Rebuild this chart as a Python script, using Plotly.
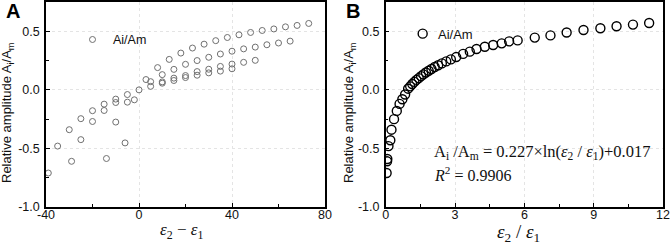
import plotly.graph_objects as go

# ---- Panel A data: relative amplitude vs strain difference ----
a_diff = [-39, -35, -30, -25, -20, -15, -10, -5, 0, 3, 5, 8, 13, 18, 23, 28, 33, 38, 43, 48, 53, 58, 63, 68, 73,
          -29, -25, -20, -15, -10, -5, -2, 5, 10, 15, 20, 25, 30, 35, 40, 45, 50, 55, 60, 65,
          -14, -10, -6, 10, 15, 20, 25, 30, 35, 40, 45, 50,
          10, 15, 20, 25, 30, 35, 40]
a_amp = [-0.71, -0.48, -0.34, -0.246, -0.178, -0.122, -0.079, -0.04, 0.0, 0.088, 0.07, 0.19, 0.26, 0.314, 0.357,
         0.39, 0.42, 0.447, 0.47, 0.49, 0.507, 0.52, 0.538, 0.55, 0.567,
         -0.61, -0.425, -0.27, -0.176, -0.108, -0.105, -0.085, 0.03, 0.13, 0.175, 0.218, 0.25, 0.278, 0.306,
         0.33, 0.35, 0.365, 0.385, 0.40, 0.416,
         -0.586, -0.275, -0.453, 0.068, 0.10, 0.122, 0.156, 0.176, 0.20, 0.22, 0.235, 0.252,
         0.057, 0.08, 0.105, 0.125, 0.145, 0.16, 0.18]

# ---- Panel B data: relative amplitude vs strain ratio ----
b_ratio = [0.04, 0.06, 0.07, 0.12, 0.20, 0.25, 0.36, 0.48, 0.60, 0.72, 0.84, 0.97, 1.06, 1.15, 1.24, 1.33,
           1.43, 1.53, 1.63, 1.74, 1.86, 1.98, 2.12, 2.27, 2.43, 2.62, 2.82, 3.05, 3.35, 3.64, 3.93, 4.29,
           4.65, 5.02, 5.34, 5.71, 6.45, 7.13, 7.83, 8.56, 9.29, 9.99, 10.7, 11.4]
b_amp = [-0.71, -0.61, -0.59, -0.48, -0.43, -0.34, -0.25, -0.18, -0.12, -0.08, -0.04, 0.01, 0.03, 0.05,
         0.068, 0.085, 0.10, 0.117, 0.132, 0.148, 0.163, 0.178, 0.195, 0.21, 0.226, 0.243, 0.26, 0.28,
         0.307, 0.326, 0.349, 0.368, 0.383, 0.397, 0.414, 0.422, 0.446, 0.465, 0.49, 0.511, 0.526,
         0.543, 0.557, 0.571]

y_tickvals = [-1.0, -0.5, 0.0, 0.5]
y_ticktext = ["-1.0", "-0.5", "0.0", "0.5"]
a_tickvals = [-40, 0, 40, 80]
a_ticktext = ["-40", "0", "40", "80"]
b_tickvals = [0, 3, 6, 9, 12]
b_ticktext = ["0", "3", "6", "9", "12"]

W, H = 671, 245
def px(x):
    return x / W
def py(y):
    return (H - y) / H

fig = go.Figure()
fig.add_trace(go.Scatter(x=a_diff, y=a_amp, mode="markers", xaxis="x", yaxis="y",
                         marker=dict(symbol="circle-open", size=6, color="#707070", line=dict(width=1)),
                         showlegend=False))
fig.add_trace(go.Scatter(x=b_ratio, y=b_amp, mode="markers", xaxis="x2", yaxis="y2",
                         marker=dict(symbol="circle-open", size=9, color="#000000", line=dict(width=1.4)),
                         showlegend=False))
# legend markers
fig.add_trace(go.Scatter(x=[-20], y=[0.43], mode="markers", xaxis="x", yaxis="y",
                         marker=dict(symbol="circle-open", size=6, color="#707070", line=dict(width=1)),
                         showlegend=False, hoverinfo="skip"))
fig.add_trace(go.Scatter(x=[1.6], y=[0.48], mode="markers", xaxis="x2", yaxis="y2",
                         marker=dict(symbol="circle-open", size=9, color="#000000", line=dict(width=1.4)),
                         showlegend=False, hoverinfo="skip"))

ydom = [py(207), py(2)]
common_axis = dict(showline=True, linecolor="black", linewidth=1.5, mirror=True, automargin=False,
                   ticks="inside", ticklen=4, tickwidth=1, tickcolor="black",
                   showgrid=True, gridcolor="#e4e4e4", griddash="dot", gridwidth=1,
                   zeroline=False, tickfont=dict(family="Liberation Sans, Arial", size=12.5, color="#111"))
xextra = dict(ticklabelstandoff=-5)
yextra = dict(ticklabelstandoff=2)

fig.update_layout(
    width=W, height=H, margin=dict(l=0, r=0, t=0, b=0),
    paper_bgcolor="white", plot_bgcolor="white",
    xaxis=dict(domain=[px(46), px(325)], range=[-40, 80], tickvals=a_tickvals, ticktext=a_ticktext,
               minor=dict(ticks="inside", ticklen=3, tickcolor="black", dtick=20, tick0=-40, showgrid=False),
               anchor="y", **common_axis, **xextra),
    yaxis=dict(domain=ydom, range=[-1.0, 0.75], tickvals=y_tickvals, ticktext=y_ticktext,
               minor=dict(ticks="inside", ticklen=3, tickcolor="black", dtick=0.25, tick0=-1, showgrid=False),
               anchor="x", **common_axis, **yextra),
    xaxis2=dict(domain=[px(385.7), px(663)], range=[0, 12], tickvals=b_tickvals, ticktext=b_ticktext,
                minor=dict(ticks="inside", ticklen=3, tickcolor="black", dtick=1.5, tick0=0, showgrid=False),
                anchor="y2", **common_axis, **xextra),
    yaxis2=dict(domain=ydom, range=[-1.0, 0.75], tickvals=y_tickvals, ticktext=y_ticktext,
                minor=dict(ticks="inside", ticklen=3, tickcolor="black", dtick=0.25, tick0=-1, showgrid=False),
                anchor="x2", **common_axis, **yextra),
)

ann = []
sans = "Liberation Sans, Arial"
serif = "Liberation Serif, Times New Roman"
# panel letters
ann.append(dict(text="<b>A</b>", x=px(4), y=py(11), xanchor="left", yanchor="middle",
                font=dict(family=sans, size=20, color="black")))
ann.append(dict(text="<b>B</b>", x=px(344), y=py(11), xanchor="left", yanchor="middle",
                font=dict(family=sans, size=20, color="black")))
# y titles
for xc in (7, 349):
    ann.append(dict(text="Relative amplitude A<sub>i</sub>/A<sub>m</sub>", x=px(xc), y=py(113),
                    xanchor="center", yanchor="middle", textangle=-90,
                    font=dict(family=sans, size=13, color="#111")))
# x titles
ann.append(dict(text="<i>ε</i><sub>2</sub> − <i>ε</i><sub>1</sub>", x=px(181), y=py(231),
                xanchor="center", yanchor="middle", font=dict(family=serif, size=17, color="#111")))
ann.append(dict(text="<i>ε</i><sub>2</sub> / <i>ε</i><sub>1</sub>", x=px(518), y=py(233),
                xanchor="center", yanchor="middle", font=dict(family=serif, size=19, color="#111")))
# legend texts
ann.append(dict(text="Ai/Am", x=px(111), y=py(40), xanchor="left", yanchor="middle",
                font=dict(family=sans, size=12.5, color="#111")))
ann.append(dict(text="Ai/Am", x=px(436), y=py(34), xanchor="left", yanchor="middle",
                font=dict(family=sans, size=13, color="#111")))
# equation
ann.append(dict(text="A<sub>i</sub> /A<sub>m</sub> = 0.227×ln(<i>ε</i><sub>2</sub> / <i>ε</i><sub>1</sub>)+0.017",
                x=px(432), y=py(152), xanchor="left", yanchor="middle",
                font=dict(family=serif, size=16.5, color="#111")))
ann.append(dict(text="<i>R</i><sup>2</sup> = 0.9906", x=px(432), y=py(174), xanchor="left", yanchor="middle",
                font=dict(family=serif, size=16, color="#111")))
for a in ann:
    a.update(xref="paper", yref="paper", showarrow=False)
fig.update_layout(annotations=ann)

fig.write_html("out.html", config={"displayModeBar": False},
               post_script="document.body.style.margin='0';document.body.style.overflow='hidden';")
